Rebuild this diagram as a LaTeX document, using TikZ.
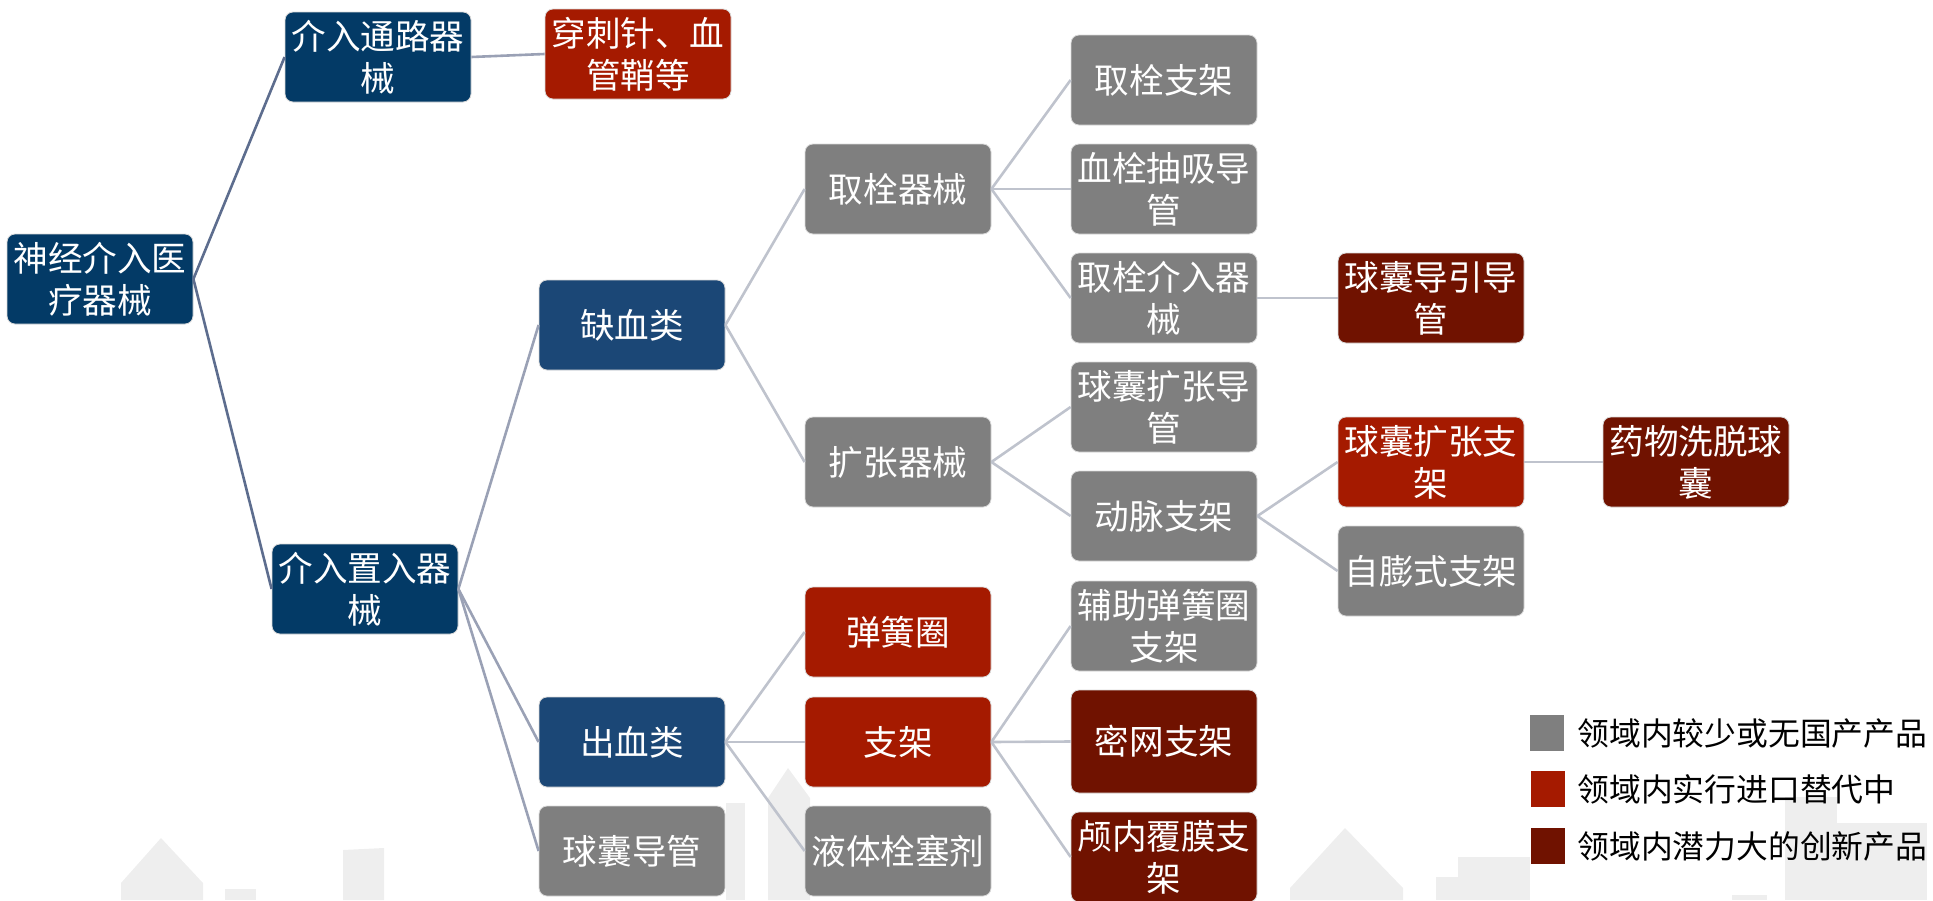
\documentclass[tikz,border=0pt]{standalone}
\usepackage{fontspec}
\newfontfamily\cjk{Noto Sans CJK SC}
\definecolor{navy}{HTML}{033A66}
\definecolor{midblue}{HTML}{1B4776}
\definecolor{boxgrey}{HTML}{7F7F7F}
\definecolor{boxred}{HTML}{A51A00}
\definecolor{boxdark}{HTML}{701200}
\definecolor{lineA}{HTML}{5D6D8E}
\definecolor{lineB}{HTML}{9AA1B5}
\definecolor{lineC}{HTML}{BFC3CD}
\definecolor{wm}{HTML}{EEEEEE}
\begin{document}
\begin{tikzpicture}[x=0.5pt,y=-0.5pt,
  box/.style={rectangle,rounded corners=4pt,minimum width=93pt,minimum height=45pt,inner sep=2pt,align=center,text=white,font=\cjk\fontsize{17.3}{21}\selectfont,draw=white!85!black,line width=0.4pt},
  bnavy/.style={box,fill=navy},
  bmid/.style={box,fill=midblue},
  bgrey/.style={box,fill=boxgrey},
  bred/.style={box,fill=boxred},
  bdark/.style={box,fill=boxdark},
  conA/.style={draw=lineA,line width=1.3pt},
  conB/.style={draw=lineB,line width=1.3pt},
  conC/.style={draw=lineC,line width=1.3pt},
  legsq/.style={rectangle,minimum width=17pt,minimum height=18pt,inner sep=0pt},
  legtxt/.style={anchor=west,inner sep=0pt,font=\cjk\fontsize{15.9}{18}\selectfont,text=black}
]
\useasboundingbox (0,0) rectangle (1933,900);
% watermark buildings
\begin{scope}[fill=wm]
\fill (121,900) -- (121,883) -- (161,838) -- (203,883) -- (203,900) -- cycle;
\fill (225,889) rectangle (256,900);
\fill (343,900) -- (343,850) -- (384,848) -- (384,900) -- cycle;
\fill (726,803) rectangle (745,900);
\fill (768,900) -- (768,798) -- (788,768) -- (810,798) -- (810,900) -- cycle;
\fill (1290,900) -- (1290,888) -- (1345,828) -- (1403,888) -- (1403,900) -- cycle;
\fill (1436,877) rectangle (1530,900);
\fill (1458,857) rectangle (1530,900);
\fill (1732,895) rectangle (1767,900);
\fill (1785,797) rectangle (1837,900);
\fill (1837,823) rectangle (1927,900);
\end{scope}
% nodes
\node[bnavy] (root) at (100,279) {神经介入医\\疗器械};
\node[bnavy] (tl) at (378,57) {介入通路器\\械};
\node[bred] (cc) at (638,54) {穿刺针、血\\管鞘等};
\node[bnavy] (zr) at (365,589) {介入置入器\\械};
\node[bmid] (qx) at (632,325) {缺血类};
\node[bmid] (cx) at (632,742) {出血类};
\node[bgrey] (qndg) at (632,851) {球囊导管};
\node[bgrey] (qs) at (898,189) {取栓器械};
\node[bgrey] (kz) at (898,462) {扩张器械};
\node[bred] (thq) at (898,632) {弹簧圈};
\node[bred] (zj) at (898,742) {支架};
\node[bgrey] (yt) at (898,851) {液体栓塞剂};
\node[bgrey] (qszj) at (1164,80) {取栓支架};
\node[bgrey] (xscx) at (1164,189) {血栓抽吸导\\管};
\node[bgrey] (qsjr) at (1164,298) {取栓介入器\\械};
\node[bgrey] (qnkzdg) at (1164,407) {球囊扩张导\\管};
\node[bgrey] (dm) at (1164,516) {动脉支架};
\node[bgrey] (fz) at (1164,626) {辅助弹簧圈\\支架};
\node[bdark,minimum height=51.5pt] (mw) at (1164,741.5) {密网支架};
\node[bdark] (ln) at (1164,857) {颅内覆膜支\\架};
\node[bdark] (dydg) at (1431,298) {球囊导引导\\管};
\node[bred] (kzzj) at (1431,462) {球囊扩张支\\架};
\node[bgrey] (zp) at (1431,571) {自膨式支架};
\node[bdark] (yw) at (1696,462) {药物洗脱球\\囊};
% connectors
\draw[conA] (root.east) -- (tl.west);
\draw[conA] (root.east) -- (zr.west);
\draw[conB] (tl.east) -- (cc.west);
\draw[conB] (zr.east) -- (qx.west);
\draw[conB] (zr.east) -- (cx.west);
\draw[conB] (zr.east) -- (qndg.west);
\draw[conC] (qx.east) -- (qs.west);
\draw[conC] (qx.east) -- (kz.west);
\draw[conC] (cx.east) -- (thq.west);
\draw[conC] (cx.east) -- (zj.west);
\draw[conC] (cx.east) -- (yt.west);
\draw[conC] (qs.east) -- (qszj.west);
\draw[conC] (qs.east) -- (xscx.west);
\draw[conC] (qs.east) -- (qsjr.west);
\draw[conC] (kz.east) -- (qnkzdg.west);
\draw[conC] (kz.east) -- (dm.west);
\draw[conC] (zj.east) -- (fz.west);
\draw[conC] (zj.east) -- (mw.west);
\draw[conC] (zj.east) -- (ln.west);
\draw[conC] (qsjr.east) -- (dydg.west);
\draw[conC] (dm.east) -- (kzzj.west);
\draw[conC] (dm.east) -- (zp.west);
\draw[conC] (kzzj.east) -- (yw.west);
% legend
\node[legsq,fill=boxgrey] (lg1) at (1547,733) {};
\node[legsq,fill=boxred] (lg2) at (1548,789) {};
\node[legsq,fill=boxdark] (lg3) at (1548,846) {};
\node[legtxt] (lt1) at (1577,733) {领域内较少或无国产产品};
\node[legtxt] (lt2) at (1577,789) {领域内实行进口替代中};
\node[legtxt] (lt3) at (1577,846) {领域内潜力大的创新产品};
\end{tikzpicture}
\end{document}
